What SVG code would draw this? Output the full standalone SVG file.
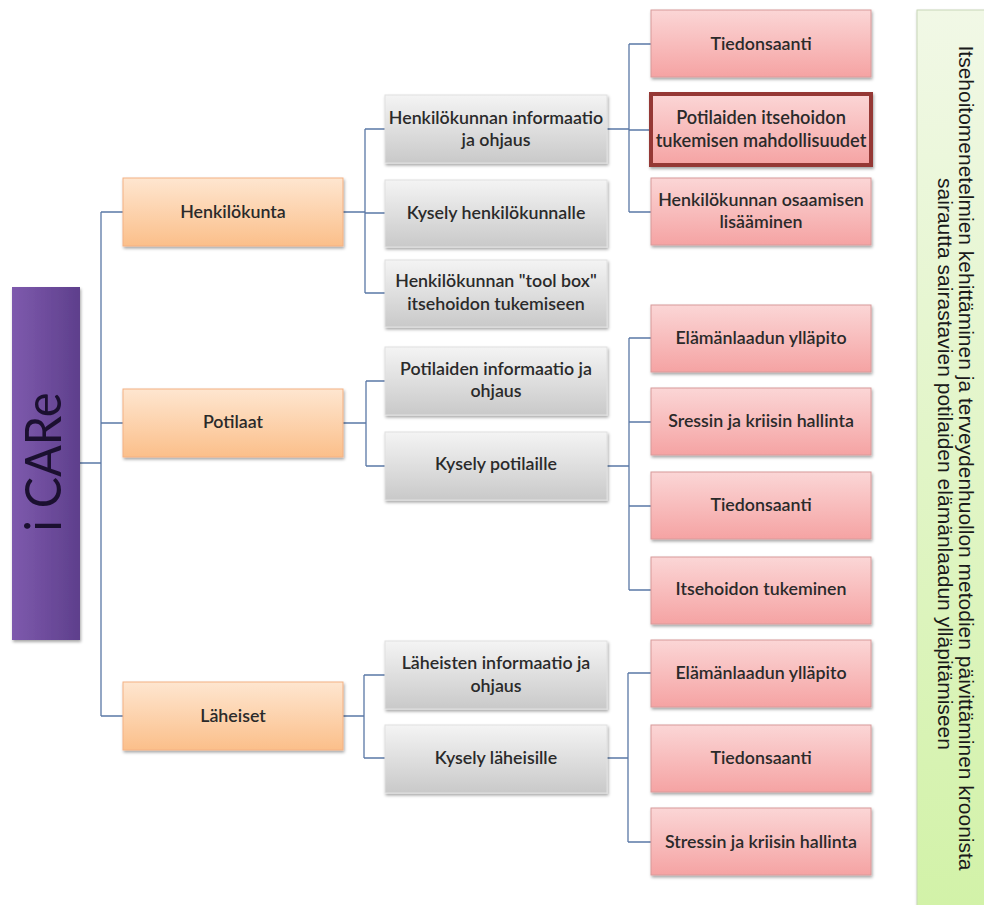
<svg xmlns="http://www.w3.org/2000/svg" width="984" height="905" viewBox="0 0 984 905">
<style>
.t{font-family:Lato,"Liberation Sans",sans-serif;font-size:17.8px;fill:#2a2a2a;text-anchor:middle;font-weight:600}
.tb{font-size:18.2px}
.or{fill:url(#gOr);stroke:#f4b183;stroke-width:1}
.gr{fill:url(#gGr);stroke:#e0e0e0;stroke-width:1}
.rd{fill:url(#gRd);stroke:#d89a9a;stroke-width:1}
.c{fill:none;stroke:#5a78a6;stroke-width:1.3}
.gt{font-family:"Liberation Sans",Arial,sans-serif;font-size:20px;fill:#1a1a1a;text-anchor:middle}
</style>
<defs>
<linearGradient id="gOr" x1="0" y1="0" x2="0" y2="1"><stop offset="0" stop-color="#fee6d0"/><stop offset="1" stop-color="#fbbf8a"/></linearGradient>
<linearGradient id="gGr" x1="0" y1="0" x2="0" y2="1"><stop offset="0" stop-color="#f4f4f4"/><stop offset="1" stop-color="#c9c9c9"/></linearGradient>
<linearGradient id="gRd" x1="0" y1="0" x2="0" y2="1"><stop offset="0" stop-color="#fbd6d6"/><stop offset="1" stop-color="#f5a3a3"/></linearGradient>
<linearGradient id="gPu" x1="0" y1="0" x2="1" y2="0"><stop offset="0" stop-color="#7e5aad"/><stop offset="1" stop-color="#5e3f8c"/></linearGradient>
<linearGradient id="gGn" x1="0" y1="0" x2="0" y2="1"><stop offset="0" stop-color="#f1f8e6"/><stop offset="1" stop-color="#d2f2a8"/></linearGradient>
<filter id="sh" x="-10%" y="-10%" width="120%" height="130%"><feDropShadow dx="1" dy="2" stdDeviation="1.6" flood-color="#000" flood-opacity="0.35"/></filter>
</defs>
<rect width="984" height="905" fill="#ffffff"/>
<g id="connectors">
<path class="c" d="M80 463H101M101 212V716M101 212H123M101 423H123M101 716H123"/>
<path class="c" d="M343 212H365M365 129V293M365 129H385M365 213H385M365 293H385"/>
<path class="c" d="M343 423H366M366 381V466M366 381H385M366 466H385"/>
<path class="c" d="M343 716H364M364 675V758M364 675H385M364 758H385"/>
<path class="c" d="M607 129H629M629 44V212M629 44H651M629 130H651M629 212H651"/>
<path class="c" d="M607 466H629M629 338V590M629 338H651M629 422H651M629 506H651M629 590H651"/>
<path class="c" d="M607 758H628M628 673V842M628 673H651M628 842H651"/>
</g>
<g id="green">
<rect x="917" y="10" width="70" height="900" fill="url(#gGn)" stroke="#c8d6b8" stroke-width="1" filter="url(#sh)"/>
<text class="gt" transform="translate(959,458) rotate(90)" x="0" y="0" textLength="825" lengthAdjust="spacingAndGlyphs">Itsehoitomenetelmien kehittäminen ja terveydenhuollon metodien päivittäminen kroonista</text>
<text class="gt" transform="translate(938,464) rotate(90)" x="0" y="0" textLength="572" lengthAdjust="spacingAndGlyphs">sairautta sairastavien potilaiden elämänlaadun ylläpitämiseen</text>
</g>
<g id="icare">
<rect x="12" y="287" width="68" height="353" fill="url(#gPu)" filter="url(#sh)"/>
<text transform="translate(61,462) rotate(-90)" x="0" y="0" font-family="Lato,'Liberation Sans',sans-serif" font-size="50" fill="#1b1030" text-anchor="middle" textLength="139" lengthAdjust="spacingAndGlyphs">i CARe</text>
</g>
<g id="henkilokunta"><rect class="or" x="123" y="178" width="220" height="68" filter="url(#sh)"/><text class="t" x="233" y="218">Henkilökunta</text></g>
<g id="potilaat"><rect class="or" x="123" y="389" width="220" height="68" filter="url(#sh)"/><text class="t" x="233" y="428">Potilaat</text></g>
<g id="laheiset"><rect class="or" x="123" y="682" width="220" height="68" filter="url(#sh)"/><text class="t" x="233" y="722">Läheiset</text></g>
<g id="h-info"><rect class="gr" x="385" y="95" width="222" height="68" filter="url(#sh)"/><text class="t" x="496" y="124">Henkilökunnan informaatio</text><text class="t" x="496" y="146">ja ohjaus</text></g>
<g id="h-kysely"><rect class="gr" x="385" y="180" width="222" height="67" filter="url(#sh)"/><text class="t" x="496" y="219">Kysely henkilökunnalle</text></g>
<g id="h-toolbox"><rect class="gr" x="385" y="260" width="222" height="67" filter="url(#sh)"/><text class="t" x="496" y="287">Henkilökunnan "tool box"</text><text class="t" x="496" y="310">itsehoidon tukemiseen</text></g>
<g id="p-info"><rect class="gr" x="385" y="347" width="222" height="68" filter="url(#sh)"/><text class="t" x="496" y="375">Potilaiden informaatio ja</text><text class="t" x="496" y="397">ohjaus</text></g>
<g id="p-kysely"><rect class="gr" x="385" y="432" width="222" height="68" filter="url(#sh)"/><text class="t" x="496" y="470">Kysely potilaille</text></g>
<g id="l-info"><rect class="gr" x="385" y="641" width="222" height="68" filter="url(#sh)"/><text class="t" x="496" y="669">Läheisten informaatio ja</text><text class="t" x="496" y="692">ohjaus</text></g>
<g id="l-kysely"><rect class="gr" x="385" y="725" width="222" height="68" filter="url(#sh)"/><text class="t" x="496" y="764">Kysely läheisille</text></g>
<g id="h-r1"><rect class="rd" x="651" y="10" width="220" height="67" filter="url(#sh)"/><text class="t" x="761" y="50">Tiedonsaanti</text></g>
<g id="h-r2"><rect class="rd" x="651" y="94" width="220" height="71" style="stroke:#953735;stroke-width:4" filter="url(#sh)"/><text class="t tb" x="761" y="124">Potilaiden itsehoidon</text><text class="t tb" x="761" y="147">tukemisen mahdollisuudet</text></g>
<g id="h-r3"><rect class="rd" x="651" y="178" width="220" height="67" filter="url(#sh)"/><text class="t" x="761" y="206">Henkilökunnan osaamisen</text><text class="t" x="761" y="228">lisääminen</text></g>
<g id="p-r1"><rect class="rd" x="651" y="305" width="220" height="67" filter="url(#sh)"/><text class="t" x="761" y="344">Elämänlaadun ylläpito</text></g>
<g id="p-r2"><rect class="rd" x="651" y="388" width="220" height="67" filter="url(#sh)"/><text class="t" x="761" y="427">Sressin ja kriisin hallinta</text></g>
<g id="p-r3"><rect class="rd" x="651" y="472" width="220" height="67" filter="url(#sh)"/><text class="t" x="761" y="511">Tiedonsaanti</text></g>
<g id="p-r4"><rect class="rd" x="651" y="557" width="220" height="67" filter="url(#sh)"/><text class="t" x="761" y="595">Itsehoidon tukeminen</text></g>
<g id="l-r1"><rect class="rd" x="651" y="640" width="220" height="67" filter="url(#sh)"/><text class="t" x="761" y="679">Elämänlaadun ylläpito</text></g>
<g id="l-r2"><rect class="rd" x="651" y="725" width="220" height="67" filter="url(#sh)"/><text class="t" x="761" y="764">Tiedonsaanti</text></g>
<g id="l-r3"><rect class="rd" x="651" y="808" width="220" height="67" filter="url(#sh)"/><text class="t" x="761" y="848">Stressin ja kriisin hallinta</text></g>
</svg>
